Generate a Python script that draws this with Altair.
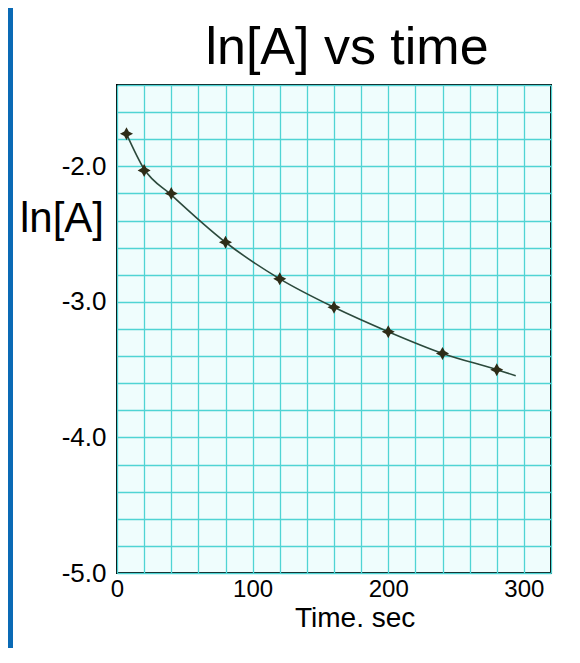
import altair as alt
import pandas as pd

# data
time_s = [7, 20, 40, 80, 120, 160, 200, 240, 280]
ln_a = [-1.76, -2.03, -2.20, -2.56, -2.83, -3.04, -3.22, -3.38, -3.50]
fit_time = [7, 20, 40, 80, 120, 160, 200, 240, 280, 294]
fit_ln_a = [-1.76, -2.02, -2.21, -2.56, -2.83, -3.04, -3.22, -3.38, -3.50, -3.545]

x_grid = [0, 20, 40, 60, 80, 100, 120, 140, 160, 180, 200, 220, 240, 260, 280, 300, 320]
y_grid = [-5.0, -4.8, -4.6, -4.4, -4.2, -4.0, -3.8, -3.6, -3.4, -3.2, -3.0,
          -2.8, -2.6, -2.4, -2.2, -2.0, -1.8, -1.6, -1.4]

title_text = "ln[A] vs time"
y_title = "ln[A]"
x_title = "Time. sec"

pts = pd.DataFrame({"t": time_s, "lnA": ln_a})
fit = pd.DataFrame({"t": fit_time, "lnA": fit_ln_a})
one = pd.DataFrame({"k": [0]})

FONT = "Liberation Sans"
GRID = "#4fd4d4"

xscale = alt.Scale(domain=[0, 320], nice=False, zero=False)
yscale = alt.Scale(domain=[-5.0, -1.4], nice=False, zero=False)

xaxis = alt.Axis(
    values=x_grid, title=None, grid=True, gridColor=GRID, gridWidth=1.3, gridOpacity=1,
    ticks=False, tickSize=0, domain=False,
    labelExpr="datum.value % 100 == 0 ? datum.label : ''",
    labelFont=FONT, labelFontSize=24, labelColor="black", labelPadding=4,
    labelOverlap=False, labelFlush=False,
)
yaxis = alt.Axis(
    values=y_grid, title=None, grid=True, gridColor=GRID, gridWidth=1.3, gridOpacity=1,
    ticks=False, tickSize=0, domain=False,
    labelExpr="abs(datum.value - round(datum.value)) < 0.001 ? '-' + format(abs(datum.value), '.1f') : ''",
    labelFont=FONT, labelFontSize=26, labelColor="black", labelPadding=11,
    labelOverlap=False, labelFlush=False,
)

stripe = alt.Chart(one).mark_rect(color="#0a6ab5").encode(
    x=alt.value(-109), x2=alt.value(-104), y=alt.value(-77), y2=alt.value(563)
)

line = alt.Chart(fit).mark_line(color="#2c4a3c", strokeWidth=1.6, interpolate="monotone").encode(
    x=alt.X("t:Q", scale=xscale, axis=xaxis),
    y=alt.Y("lnA:Q", scale=yscale, axis=yaxis),
)

star = "M0,-1L0.35,-0.35L1,0L0.35,0.35L0,1L-0.35,0.35L-1,0L-0.35,-0.35Z"
points = alt.Chart(pts).mark_point(shape=star, filled=True, size=170, color="#2e2c17", opacity=1).encode(
    x=alt.X("t:Q", scale=xscale, axis=xaxis),
    y=alt.Y("lnA:Q", scale=yscale, axis=yaxis),
)

title = alt.Chart(one).mark_text(
    text=title_text, font=FONT, fontSize=52, color="black", align="center", baseline="alphabetic"
).encode(x=alt.value(230), y=alt.value(-21))

ytitle = alt.Chart(one).mark_text(
    text=y_title, font=FONT, fontSize=42, color="black", align="left", baseline="alphabetic"
).encode(x=alt.value(-97), y=alt.value(147))

xtitle = alt.Chart(one).mark_text(
    text=x_title, font=FONT, fontSize=28, color="black", align="left", baseline="alphabetic"
).encode(x=alt.value(178), y=alt.value(542))

chart = alt.layer(stripe, line, points, title, ytitle, xtitle).properties(
    width=434, height=488,
    autosize=alt.AutoSizeParams(type="none"),
    padding={"left": 109, "top": 77, "right": 21, "bottom": 75},
    background="white",
).configure_view(fill="#effdfd", stroke="black", strokeWidth=2)

chart.save("out.html", embed_options={"renderer": "svg", "actions": False})
